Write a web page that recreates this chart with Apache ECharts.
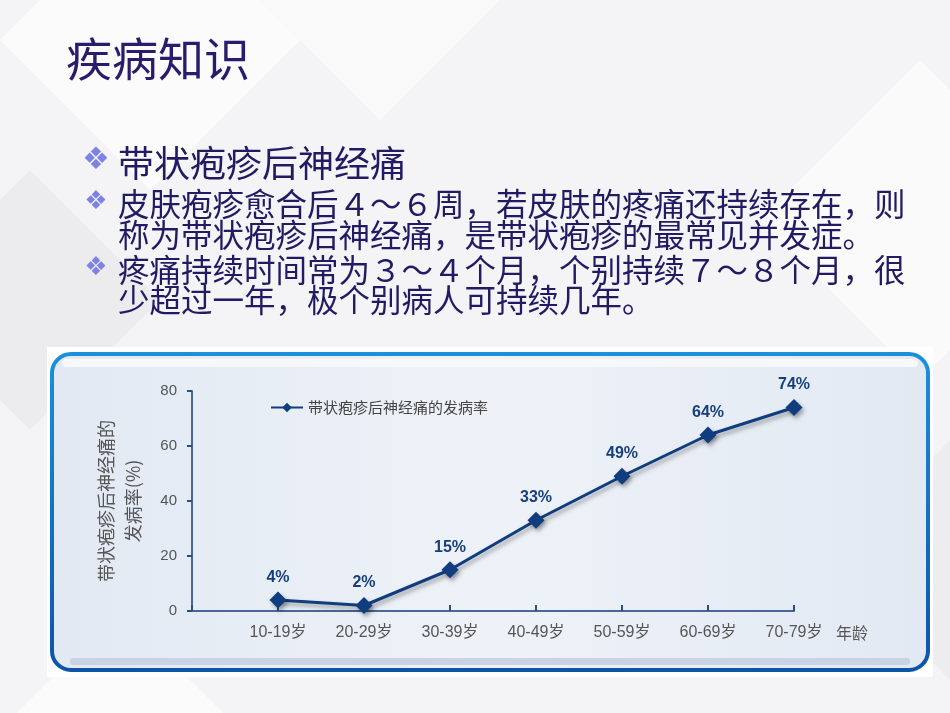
<!DOCTYPE html>
<html>
<head>
<meta charset="utf-8">
<script src="https://cdn.jsdelivr.net/npm/echarts@6/dist/echarts.min.js"></script>
<style>
  html, body { margin: 0; padding: 0; background: #f4f4f6; }
  #main { width: 950px; height: 713px; }
</style>
</head>
<body>
<div id="main"></div>
<script>
// age groups and incidence (%)
const ageGroups = ['10-19岁', '20-29岁', '30-39岁', '40-49岁', '50-59岁', '60-69岁', '70-79岁'];
const incidence = [4, 2, 15, 33, 49, 64, 74];
const yTicks = [0, 20, 40, 60, 80];

const seriesName = '带状疱疹后神经痛的发病率';
const slideTitle = '疾病知识';
const bulletLines = [
    { text: '带状疱疹后神经痛', big: true, bullet: true },
    { text: '皮肤疱疹愈合后４～６周，若皮肤的疼痛还持续存在，则', bullet: true },
    { text: '称为带状疱疹后神经痛，是带状疱疹的最常见并发症。' },
    { text: '疼痛持续时间常为３～４个月，个别持续７～８个月，很', bullet: true },
    { text: '少超过一年，极个别病人可持续几年。' }
];
const lineY = [163, 204, 235, 270, 300];

const cjk = '"Noto Sans CJK SC", sans-serif';
const latin = '"Liberation Sans", Arial, "Noto Sans CJK SC", sans-serif';
const textColor = '#221a62';

const chart = echarts.init(document.getElementById('main'));

// faint diamond facets of the slide background
function diamond(cx, cy, r, color) {
    return {
        type: 'polygon', z: -20, silent: true,
        shape: { points: [[cx, cy - r], [cx + r, cy], [cx, cy + r], [cx - r, cy]] },
        style: { fill: color }
    };
}

const graphics = [
    diamond(150, 40, 150, '#fbfbfc'),
    diamond(380, -20, 140, '#f9f9fa'),
    diamond(30, 300, 130, '#ececef'),
    diamond(920, 220, 160, '#fafafb'),
    diamond(950, 560, 120, '#ededf0'),
    diamond(120, 720, 110, '#fbfbfc'),
    {
        type: 'text', left: 66, top: 36,
        style: { text: slideTitle, font: '46px ' + cjk, fill: '#2b1b6c' }
    },
    // panel behind the chart
    {
        type: 'rect', z: -10, silent: true,
        shape: { x: 47, y: 347, width: 886, height: 330 },
        style: { fill: '#ffffff' }
    },
    {
        type: 'rect', z: -9, silent: true,
        shape: { x: 52, y: 354, width: 876, height: 316, r: 19 },
        style: {
            fill: new echarts.graphic.LinearGradient(0, 0, 1, 0, [
                { offset: 0, color: '#e2e9f3' },
                { offset: 0.5, color: '#eef2f8' },
                { offset: 1, color: '#e2e9f3' }
            ]),
            stroke: new echarts.graphic.LinearGradient(0, 0, 0, 1, [
                { offset: 0, color: '#1c90da' },
                { offset: 1, color: '#0c55a6' }
            ]),
            lineWidth: 4
        }
    },
    {
        type: 'rect', z: -8, silent: true,
        shape: { x: 62, y: 359, width: 856, height: 8, r: 4 },
        style: { fill: '#f6f8fb' }
    },
    {
        type: 'rect', z: -8, silent: true,
        shape: { x: 70, y: 658, width: 840, height: 7, r: 3 },
        style: { fill: '#c9d3e3' }
    }
];

bulletLines.forEach((ln, i) => {
    if (ln.bullet) {
        graphics.push({
            type: 'text', x: 96, y: lineY[i] - 2,
            style: {
                text: '❖', font: (ln.big ? 31 : 26) + 'px "DejaVu Sans"',
                fill: '#7d83e4', align: 'center', verticalAlign: 'middle'
            }
        });
    }
    graphics.push({
        type: 'text', x: 118, y: lineY[i],
        style: {
            text: ln.text, font: (ln.big ? 36 : 31.5) + 'px ' + cjk,
            fill: textColor, verticalAlign: 'middle'
        }
    });
});

const option = {
    backgroundColor: '#f4f4f6',
    graphic: graphics,
    grid: { left: 192, right: 156, top: 391, bottom: 102 },
    legend: {
        left: 265, top: 395,
        itemWidth: 32, itemHeight: 12,
        data: [seriesName],
        textStyle: { fontFamily: cjk, fontSize: 15, color: '#444' }
    },
    xAxis: {
        type: 'category',
        boundaryGap: false,
        data: [''].concat(ageGroups),
        name: '年龄',
        nameLocation: 'end',
        nameGap: 42,
        nameTextStyle: {
            fontFamily: cjk, fontSize: 16, color: '#555',
            verticalAlign: 'top', padding: [14, 0, 0, 0]
        },
        axisLine: { lineStyle: { color: '#4a6797', width: 2 } },
        axisTick: { inside: true, length: 6, lineStyle: { color: '#264f8c', width: 2 } },
        axisLabel: { fontFamily: latin, fontSize: 16, color: '#555', margin: 14 }
    },
    yAxis: {
        type: 'value',
        min: 0, max: 80, interval: 20,
        name: '带状疱疹后神经痛的\n发病率(%)',
        nameLocation: 'middle',
        nameGap: 45,
        nameTextStyle: { fontFamily: cjk, fontSize: 18, color: '#555', lineHeight: 27 },
        splitLine: { show: false },
        axisLine: { show: true, lineStyle: { color: '#4a6797', width: 2 } },
        axisTick: { show: true, length: 5, lineStyle: { color: '#264f8c', width: 2 } },
        axisLabel: {
            fontFamily: latin, fontSize: 15, color: '#555', margin: 15,
            formatter: v => (yTicks.indexOf(v) >= 0 ? String(v) : '')
        }
    },
    series: [{
        name: seriesName,
        type: 'line',
        data: ['-'].concat(incidence),
        symbol: 'diamond',
        symbolSize: 17,
        color: '#0f3d7e',
        lineStyle: {
            width: 3, color: '#0f3d7e',
            shadowColor: 'rgba(0,0,0,0.35)', shadowBlur: 4, shadowOffsetX: 2, shadowOffsetY: 3
        },
        itemStyle: {
            color: '#0f3d7e',
            shadowColor: 'rgba(0,0,0,0.35)', shadowBlur: 4, shadowOffsetX: 2, shadowOffsetY: 3
        },
        label: {
            show: true, position: 'top', distance: 6,
            formatter: p => p.value + '%',
            fontFamily: latin, fontSize: 16, fontWeight: 'bold', color: '#173f7b'
        },
        animation: false
    }],
    animation: false
};

chart.setOption(option);
</script>
</body>
</html>
